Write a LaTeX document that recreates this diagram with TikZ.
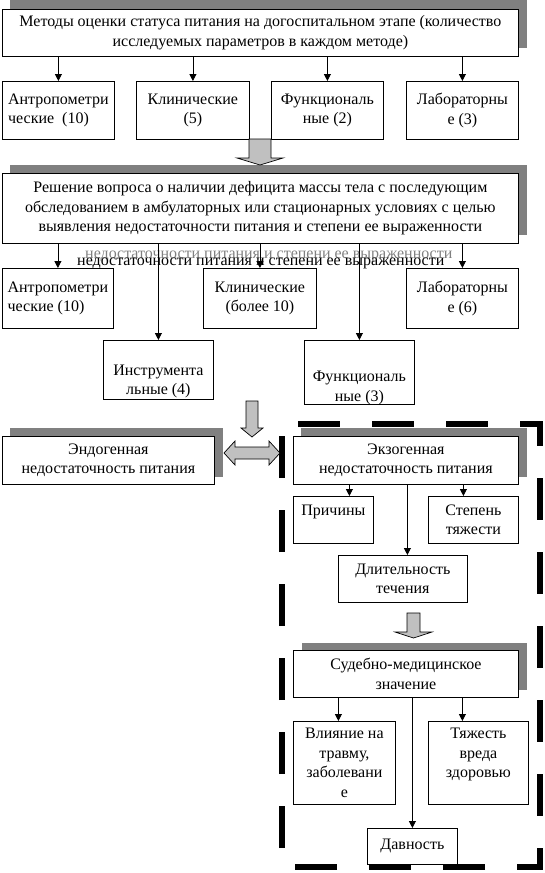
\documentclass[tikz,border=0pt]{standalone}
\usepackage{fontspec}
\setmainfont{Liberation Serif}
\usetikzlibrary{arrows.meta}
\definecolor{shadowgray}{RGB}{128,128,128}
\definecolor{arrowgray}{RGB}{192,192,192}

\begin{document}
\begin{tikzpicture}[x=1pt,y=-1pt,
  font=\fontsize{16}{19.5}\selectfont,
  box/.style={draw, fill=white, line width=0.8pt, inner sep=0pt, anchor=north west, align=center},
  shade/.style={fill=shadowgray},
  arr/.style={-{Triangle[length=7pt,width=7pt]}, line width=0.8pt},
  blockarrow/.style={draw, fill=arrowgray, line width=0.7pt}]
\useasboundingbox (0,0) rectangle (544,873); %page frame
\fill[shade] (10,0) rectangle (527,48); %shadow of the first box
\fill[shade] (10,165) rectangle (527,235); %shadow of the second box
\fill[shade] (10,428) rectangle (223,477); %shadow endo
\fill[shade] (301,428) rectangle (527,477); %shadow exo
\fill[shade] (302,643) rectangle (527,690); %shadow forensic box
\draw[line width=5.5pt, dash pattern=on 42pt off 32pt, dash phase=58pt] (282,424) -- (540,424) -- (540,867) -- (282,867) -- cycle; %big dashed frame
\node[box, minimum width=516pt, minimum height=47pt] (top) at (2,9) {Методы оценки статуса питания на догоспитальном этапе (количество\\исследуемых параметров в каждом методе)};
\node[box, minimum width=112pt, minimum height=58pt, align=left] (antr1) at (2,81) {Антропометри\\ческие~~(10)};
\node[box, minimum width=113pt, minimum height=58pt] (klin1) at (136,81) {Клинические\\(5)};
\node[box, minimum width=112pt, minimum height=58pt] (func1) at (271,81) {Функциональ\\ные (2)};
\node[box, minimum width=112pt, minimum height=58pt] (lab1) at (406,81) {Лабораторны\\е (3)};
\draw[blockarrow] (249,139) -- (249,158) -- (237,158) -- (260,165) -- (283,158) -- (271,158) -- (271,139) -- cycle; %grey arrow down
\node[box, minimum width=516pt, minimum height=70pt] (solve) at (2,173) {Решение вопроса о наличии дефицита массы тела с последующим\\обследованием в амбулаторных или стационарных условиях с целью\\выявления недостаточности питания и степени ее выраженности};
\node[anchor=base west, inner sep=0pt, text=shadowgray] (echo) at (85,258) {недостаточности питания и степени ее выраженности}; %grey copy of the line
\node[anchor=base west, inner sep=0pt] (echob) at (77,265) {недостаточности питания и степени ее выраженности}; %black copy of the line
\node[box, minimum width=111pt, minimum height=60pt, align=left] (antr2) at (2,268) {Антропометри\\ческие (10)};
\node[box, minimum width=113pt, minimum height=60pt] (klin2) at (203,268) {Клинические\\(более 10)};
\node[box, minimum width=112pt, minimum height=60pt] (lab2) at (406,268) {Лабораторны\\е (6)};
\node[box, minimum width=110pt, minimum height=59pt] (instr) at (103,340) {\strut\\Инструмента\\льные (4)};
\node[box, minimum width=110pt, minimum height=59pt] (func2) at (304,340) {\strut\\[8pt]Функциональ\\ные (3)};
\draw[blockarrow] (246,401) -- (246,428) -- (241,428) -- (252,437) -- (263,428) -- (258,428) -- (258,401) -- cycle; %grey arrow down
\node[box, minimum width=212pt, minimum height=48pt] (endo) at (2,436) {Эндогенная\\недостаточность питания};
\node[box, minimum width=225pt, minimum height=48pt] (exo) at (293,436) {Экзогенная\\недостаточность питания};
\draw[blockarrow] (224,453) -- (235,441) -- (235,447) -- (269,447) -- (269,441) -- (280,453) -- (269,465) -- (269,459) -- (235,459) -- (235,465) -- cycle; %grey double arrow
\node[box, minimum width=80pt, minimum height=47pt] (prich) at (293,496) {Причины\\~};
\node[box, minimum width=90pt, minimum height=47pt] (stepen) at (428,496) {Степень\\тяжести};
\node[box, minimum width=129pt, minimum height=47pt] (dlit) at (338,555) {Длительность\\течения};
\draw[blockarrow] (407,613) -- (407,632) -- (395,632) -- (413.5,638) -- (432,632) -- (420,632) -- (420,613) -- cycle; %grey arrow down
\node[box, minimum width=225pt, minimum height=47pt] (sud) at (293,650) {Судебно-медицинское\\значение};
\node[box, minimum width=102pt, minimum height=83pt] (vliyan) at (293,721) {Влияние на\\травму,\\заболевани\\е};
\node[box, minimum width=100pt, minimum height=83pt] (tyazh) at (428,721) {Тяжесть\\вреда\\здоровью\\~};
\node[box, minimum width=90pt, minimum height=36pt] (davn) at (367,828) {Давность};
\foreach \n in {antr1,klin1,func1,lab1}
  \draw[arr] (top.south -| \n) -- (\n.north); %arrows from the first box
\foreach \n in {antr2,instr,klin2,func2,lab2}
  \draw[arr] (solve.south -| \n) -- (\n.north); %arrows from the second box
\coordinate (c1) at ([xshift=16pt]prich.north);
\coordinate (c2) at ([xshift=-10pt]stepen.north);
\coordinate (c3) at ([xshift=4.5pt]dlit.north);
\draw[arr] (exo.south -| c1) -- (c1);
\draw[arr] (exo.south -| c2) -- (c2);
\draw[arr] (exo.south -| c3) -- (c3);
\coordinate (d1) at ([xshift=-6pt]vliyan.north);
\coordinate (d2) at ([xshift=-16pt]tyazh.north);
\draw[arr] (sud.south -| d1) -- (d1);
\draw[arr] (sud.south -| d2) -- (d2);
\draw[arr] (sud.south -| davn) -- (davn.north);
\end{tikzpicture}
\end{document}
